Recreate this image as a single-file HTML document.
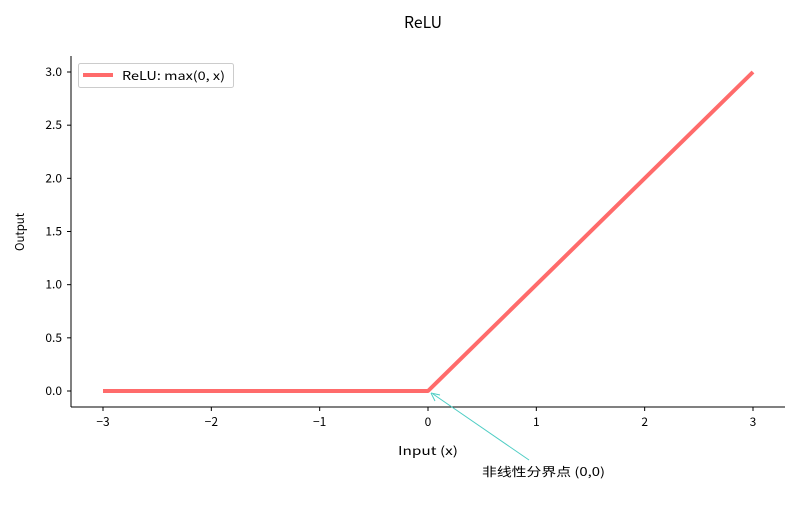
<!DOCTYPE html>
<html><head><meta charset="utf-8"><style>
body{margin:0;background:#fff}
text{font-family:"WenQuanYi Zen Hei Mono","WenQuanYi Zen Hei","Noto Sans CJK SC",monospace;fill:#000}
</style></head><body>
<svg width="800" height="500" xmlns="http://www.w3.org/2000/svg">
<text x="423" y="28" font-size="16" text-anchor="middle" textLength="38" lengthAdjust="spacingAndGlyphs">ReLU</text>
<g id="marks"></g>
<line x1="71" y1="56" x2="71" y2="407" stroke="#000" stroke-width="1"/>
<line x1="71" y1="407" x2="785" y2="407" stroke="#000" stroke-width="1"/>
<g id="xticks"></g><g id="yticks"></g>
<text x="428" y="455" font-size="12" text-anchor="middle" textLength="60" lengthAdjust="spacingAndGlyphs">Input (x)</text>
<text transform="translate(24,232) rotate(-90)" font-size="12" text-anchor="middle" textLength="38" lengthAdjust="spacingAndGlyphs">Output</text>
<g>
<rect x="78.5" y="63.5" width="155" height="24" rx="2" fill="#fff" stroke="#ccc"/>
<line x1="83" y1="75" x2="113" y2="75" stroke="#FF6B6B" stroke-width="4"/>
<text x="122" y="80" font-size="12" textLength="103" lengthAdjust="spacingAndGlyphs">ReLU: max(0, x)</text>
</g>
<g>
<line x1="529" y1="460" x2="433" y2="394" stroke="#4ECDC4" stroke-width="1"/>
<path d="M431,393 L440,395 M431,393 L435,401" stroke="#4ECDC4" stroke-width="1" fill="none"/>
<text x="482" y="476" font-size="12" textLength="123" lengthAdjust="spacingAndGlyphs">非线性分界点 (0,0)</text>
</g>
</svg>
<script>
const xValues=[-3,0,3];
const yValues=[0,0,3];
const xTicks=[-3,-2,-1,0,1,2,3];
const xTickLabels=["−3","−2","−1","0","1","2","3"];
const yTicks=[0,0.5,1,1.5,2,2.5,3];
const yTickLabels=["0.0","0.5","1.0","1.5","2.0","2.5","3.0"];
const NS="http://www.w3.org/2000/svg";
function sx(v){return 428+v*108.33;}
function sy(v){return 391-v*106.33;}
const marks=document.getElementById('marks');
const pl=document.createElementNS(NS,'polyline');
pl.setAttribute('points',xValues.map((x,i)=>sx(x)+','+sy(yValues[i])).join(' '));
pl.setAttribute('fill','none');pl.setAttribute('stroke','#FF6B6B');pl.setAttribute('stroke-width','4');
pl.setAttribute('stroke-linejoin','round');


marks.appendChild(pl);
const xg=document.getElementById('xticks');
xTicks.forEach((t,i)=>{
 const l=document.createElementNS(NS,'line');
 l.setAttribute('x1',sx(t));l.setAttribute('x2',sx(t));l.setAttribute('y1',407);l.setAttribute('y2',411);l.setAttribute('stroke','#000');
 
 
 xg.appendChild(l);
 const tx=document.createElementNS(NS,'text');
 tx.setAttribute('x',sx(t));tx.setAttribute('y',426);tx.setAttribute('font-size','12');tx.setAttribute('text-anchor','middle');
 tx.textContent=xTickLabels[i];
 
 
 xg.appendChild(tx);
});
const yg=document.getElementById('yticks');
yTicks.forEach((t,i)=>{
 const l=document.createElementNS(NS,'line');
 l.setAttribute('x1',67);l.setAttribute('x2',71);l.setAttribute('y1',sy(t));l.setAttribute('y2',sy(t));l.setAttribute('stroke','#000');
 
 
 yg.appendChild(l);
 const tx=document.createElementNS(NS,'text');
 tx.setAttribute('x',62);tx.setAttribute('y',sy(t)+4);tx.setAttribute('font-size','12');tx.setAttribute('text-anchor','end');
 tx.textContent=yTickLabels[i];
 
 
 yg.appendChild(tx);
});
</script>
</body></html>
